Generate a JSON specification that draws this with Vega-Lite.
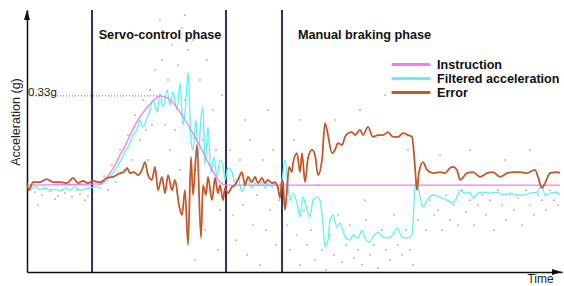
{
  "$schema": "https://vega.github.io/schema/vega-lite/v6.json",
  "width": 535,
  "height": 262,
  "autosize": "none",
  "padding": {"left": 27, "top": 10, "right": 2, "bottom": 14},
  "background": "white",
  "config": {"view": {"stroke": null}, "font": "Liberation Sans"},
  "datasets": {
    "dots": [
      {"t":8,"a":-0.026},{"t":15,"a":-0.037},{"t":23,"a":-0.022},{"t":31,"a":-0.041},{"t":38,"a":-0.030},{"t":45,"a":-0.044},{"t":53,"a":-0.033},{"t":61,"a":-0.041},{"t":18,"a":-0.011},{"t":35,"a":-0.019},{"t":50,"a":-0.019},{"t":66,"a":-0.026},{"t":28,"a":-0.052},{"t":58,"a":-0.056},{"t":11,"a":-0.074},
      {"t":73,"a":-0.011},{"t":77,"a":0.033},{"t":81,"a":-0.019},{"t":85,"a":0.074},{"t":89,"a":0.011},{"t":93,"a":0.130},{"t":97,"a":0.056},{"t":101,"a":0.185},{"t":105,"a":0.093},{"t":108,"a":0.259},{"t":113,"a":0.167},{"t":116,"a":0.315},{"t":119,"a":0.204},{"t":123,"a":0.352},{"t":125,"a":0.222},{"t":128,"a":0.426},{"t":131,"a":0.278},{"t":135,"a":0.463},{"t":138,"a":0.222},{"t":141,"a":0.389},{"t":145,"a":0.518},{"t":148,"a":0.204},{"t":151,"a":0.444},{"t":155,"a":0.581},{"t":158,"a":0.315},{"t":161,"a":0.500},{"t":163,"a":0.204},{"t":166,"a":0.537},{"t":169,"a":0.056},{"t":173,"a":0.389},{"t":176,"a":0.167},{"t":180,"a":0.463},{"t":183,"a":-0.019},{"t":186,"a":0.278},{"t":189,"a":0.130},{"t":193,"a":-0.093},{"t":195,"a":0.333},{"t":178,"a":-0.167},{"t":168,"a":-0.278},{"t":191,"a":-0.241},{"t":133,"a":0.611},{"t":158,"a":0.629},{"t":121,"a":0.093},{"t":111,"a":0.037},{"t":143,"a":0.130},{"t":153,"a":0.056},
      {"t":203,"a":0.130},{"t":206,"a":-0.111},{"t":209,"a":-0.204},{"t":213,"a":0.093},{"t":216,"a":-0.074},{"t":220,"a":-0.259},{"t":223,"a":0.167},{"t":226,"a":-0.148},{"t":230,"a":-0.037},{"t":233,"a":-0.296},{"t":236,"a":0.093},{"t":239,"a":-0.167},{"t":243,"a":-0.093},{"t":246,"a":0.130},{"t":249,"a":-0.222},{"t":252,"a":-0.056},{"t":218,"a":0.241},{"t":241,"a":0.278},
      {"t":260,"a":-0.148},{"t":263,"a":-0.241},{"t":267,"a":0.167},{"t":270,"a":-0.185},{"t":273,"a":-0.296},{"t":277,"a":-0.093},{"t":280,"a":-0.222},{"t":284,"a":-0.167},{"t":288,"a":-0.278},{"t":291,"a":0},{"t":295,"a":-0.241},{"t":299,"a":-0.315},{"t":303,"a":-0.185},{"t":307,"a":-0.259},{"t":311,"a":-0.111},{"t":315,"a":-0.285},{"t":319,"a":-0.222},{"t":323,"a":-0.148},{"t":327,"a":-0.270},{"t":331,"a":-0.241},{"t":335,"a":-0.296},{"t":339,"a":-0.130},{"t":343,"a":-0.259},{"t":347,"a":-0.222},{"t":351,"a":-0.307},{"t":355,"a":-0.167},{"t":359,"a":-0.241},{"t":363,"a":-0.278},{"t":367,"a":-0.111},{"t":371,"a":-0.222},{"t":375,"a":-0.259},{"t":379,"a":-0.167},{"t":383,"a":-0.241},{"t":386,"a":-0.296},{"t":308,"a":0.241},{"t":333,"a":0.278},{"t":358,"a":0.333},{"t":273,"a":0.241},{"t":381,"a":0.130},{"t":338,"a":-0.056},
      {"t":391,"a":-0.130},{"t":395,"a":-0.074},{"t":399,"a":-0.167},{"t":403,"a":-0.056},{"t":407,"a":-0.111},{"t":411,"a":-0.093},{"t":415,"a":-0.167},{"t":419,"a":-0.037},{"t":423,"a":-0.130},{"t":427,"a":-0.074},{"t":431,"a":-0.148},{"t":435,"a":-0.019},{"t":439,"a":-0.100},{"t":443,"a":-0.056},{"t":447,"a":-0.148},{"t":451,"a":-0.074},{"t":455,"a":-0.037},{"t":459,"a":-0.111},{"t":463,"a":-0.056},{"t":467,"a":-0.167},{"t":471,"a":-0.019},{"t":475,"a":-0.074},{"t":479,"a":-0.130},{"t":483,"a":-0.037},{"t":487,"a":-0.093},{"t":491,"a":-0.048},{"t":495,"a":-0.148},{"t":499,"a":-0.019},{"t":503,"a":-0.074},{"t":507,"a":-0.111},{"t":511,"a":-0.037},{"t":515,"a":-0.056},{"t":519,"a":-0.093},{"t":523,"a":-0.019},{"t":527,"a":-0.056},{"t":531,"a":-0.074},{"t":443,"a":0.130},{"t":478,"a":0.093},{"t":413,"a":0.111},{"t":503,"a":0.130}
    ],
    "lines": [
      {"series":"Filtered acceleration","t":0,"a":0.007},{"series":"Filtered acceleration","t":3,"a":-0.019},{"series":"Filtered acceleration","t":8,"a":-0.007},{"series":"Filtered acceleration","t":13,"a":-0.015},{"series":"Filtered acceleration","t":18,"a":-0.011},{"series":"Filtered acceleration","t":23,"a":-0.019},{"series":"Filtered acceleration","t":28,"a":-0.015},{"series":"Filtered acceleration","t":33,"a":-0.022},{"series":"Filtered acceleration","t":38,"a":-0.011},{"series":"Filtered acceleration","t":43,"a":-0.019},{"series":"Filtered acceleration","t":48,"a":-0.007},{"series":"Filtered acceleration","t":53,"a":-0.019},{"series":"Filtered acceleration","t":58,"a":-0.015},{"series":"Filtered acceleration","t":63,"a":-0.011},{"series":"Filtered acceleration","t":68,"a":-0.007},{"series":"Filtered acceleration","t":73,"a":0},{"series":"Filtered acceleration","t":78,"a":0.011},{"series":"Filtered acceleration","t":83,"a":0.030},{"series":"Filtered acceleration","t":88,"a":0.056},{"series":"Filtered acceleration","t":93,"a":0.085},{"series":"Filtered acceleration","t":98,"a":0.122},{"series":"Filtered acceleration","t":103,"a":0.155},{"series":"Filtered acceleration","t":107,"a":0.192},{"series":"Filtered acceleration","t":110,"a":0.204},{"series":"Filtered acceleration","t":113,"a":0.241},{"series":"Filtered acceleration","t":116,"a":0.215},{"series":"Filtered acceleration","t":120,"a":0.248},{"series":"Filtered acceleration","t":123,"a":0.278},{"series":"Filtered acceleration","t":126,"a":0.315},{"series":"Filtered acceleration","t":130,"a":0.270},{"series":"Filtered acceleration","t":133,"a":0.340},{"series":"Filtered acceleration","t":136,"a":0.289},{"series":"Filtered acceleration","t":140,"a":0.352},{"series":"Filtered acceleration","t":143,"a":0.296},{"series":"Filtered acceleration","t":146,"a":0.344},{"series":"Filtered acceleration","t":150,"a":0.278},{"series":"Filtered acceleration","t":153,"a":0.377},{"series":"Filtered acceleration","t":156,"a":0.222},{"series":"Filtered acceleration","t":159,"a":0.315},{"series":"Filtered acceleration","t":161,"a":0.418},{"series":"Filtered acceleration","t":164,"a":0.167},{"series":"Filtered acceleration","t":166,"a":0.130},{"series":"Filtered acceleration","t":169,"a":0.241},{"series":"Filtered acceleration","t":171,"a":0.100},{"series":"Filtered acceleration","t":174,"a":0.248},{"series":"Filtered acceleration","t":176,"a":0.289},{"series":"Filtered acceleration","t":178,"a":0.074},{"series":"Filtered acceleration","t":181,"a":0.215},{"series":"Filtered acceleration","t":184,"a":0.048},{"series":"Filtered acceleration","t":187,"a":0.104},{"series":"Filtered acceleration","t":190,"a":0.030},{"series":"Filtered acceleration","t":193,"a":0.093},{"series":"Filtered acceleration","t":196,"a":0.074},{"series":"Filtered acceleration","t":198,"a":0.019},{"series":"Filtered acceleration","t":201,"a":0.063},{"series":"Filtered acceleration","t":205,"a":0.048},{"series":"Filtered acceleration","t":208,"a":0.007},{"series":"Filtered acceleration","t":211,"a":0.026},{"series":"Filtered acceleration","t":215,"a":-0.026},{"series":"Filtered acceleration","t":218,"a":0},{"series":"Filtered acceleration","t":221,"a":0.019},{"series":"Filtered acceleration","t":225,"a":-0.011},{"series":"Filtered acceleration","t":228,"a":0.007},{"series":"Filtered acceleration","t":231,"a":-0.004},{"series":"Filtered acceleration","t":235,"a":0.011},{"series":"Filtered acceleration","t":238,"a":-0.011},{"series":"Filtered acceleration","t":241,"a":0.004},{"series":"Filtered acceleration","t":245,"a":-0.007},{"series":"Filtered acceleration","t":248,"a":0.007},{"series":"Filtered acceleration","t":251,"a":-0.011},{"series":"Filtered acceleration","t":255,"a":0.019},{"series":"Filtered acceleration","t":258,"a":0.093},{"series":"Filtered acceleration","t":261,"a":-0.007},{"series":"Filtered acceleration","t":263,"a":-0.056},{"series":"Filtered acceleration","t":266,"a":-0.030},{"series":"Filtered acceleration","t":270,"a":-0.067},{"series":"Filtered acceleration","t":273,"a":-0.118},{"series":"Filtered acceleration","t":276,"a":-0.044},{"series":"Filtered acceleration","t":280,"a":-0.093},{"series":"Filtered acceleration","t":283,"a":-0.118},{"series":"Filtered acceleration","t":286,"a":-0.056},{"series":"Filtered acceleration","t":290,"a":-0.044},{"series":"Filtered acceleration","t":293,"a":-0.056},{"series":"Filtered acceleration","t":296,"a":-0.148},{"series":"Filtered acceleration","t":298,"a":-0.229},{"series":"Filtered acceleration","t":301,"a":-0.204},{"series":"Filtered acceleration","t":303,"a":-0.130},{"series":"Filtered acceleration","t":306,"a":-0.111},{"series":"Filtered acceleration","t":310,"a":-0.155},{"series":"Filtered acceleration","t":313,"a":-0.141},{"series":"Filtered acceleration","t":318,"a":-0.192},{"series":"Filtered acceleration","t":323,"a":-0.204},{"series":"Filtered acceleration","t":326,"a":-0.185},{"series":"Filtered acceleration","t":331,"a":-0.196},{"series":"Filtered acceleration","t":335,"a":-0.167},{"series":"Filtered acceleration","t":338,"a":-0.196},{"series":"Filtered acceleration","t":343,"a":-0.211},{"series":"Filtered acceleration","t":346,"a":-0.192},{"series":"Filtered acceleration","t":351,"a":-0.174},{"series":"Filtered acceleration","t":356,"a":-0.192},{"series":"Filtered acceleration","t":361,"a":-0.196},{"series":"Filtered acceleration","t":366,"a":-0.185},{"series":"Filtered acceleration","t":370,"a":-0.159},{"series":"Filtered acceleration","t":375,"a":-0.192},{"series":"Filtered acceleration","t":380,"a":-0.196},{"series":"Filtered acceleration","t":385,"a":-0.185},{"series":"Filtered acceleration","t":388,"a":-0.007},{"series":"Filtered acceleration","t":390,"a":0.019},{"series":"Filtered acceleration","t":393,"a":-0.044},{"series":"Filtered acceleration","t":396,"a":-0.081},{"series":"Filtered acceleration","t":400,"a":-0.056},{"series":"Filtered acceleration","t":406,"a":-0.037},{"series":"Filtered acceleration","t":413,"a":-0.044},{"series":"Filtered acceleration","t":420,"a":-0.056},{"series":"Filtered acceleration","t":426,"a":-0.067},{"series":"Filtered acceleration","t":430,"a":-0.044},{"series":"Filtered acceleration","t":433,"a":-0.019},{"series":"Filtered acceleration","t":438,"a":-0.030},{"series":"Filtered acceleration","t":443,"a":-0.026},{"series":"Filtered acceleration","t":446,"a":-0.048},{"series":"Filtered acceleration","t":451,"a":-0.030},{"series":"Filtered acceleration","t":456,"a":-0.026},{"series":"Filtered acceleration","t":463,"a":-0.030},{"series":"Filtered acceleration","t":470,"a":-0.026},{"series":"Filtered acceleration","t":476,"a":-0.037},{"series":"Filtered acceleration","t":483,"a":-0.030},{"series":"Filtered acceleration","t":490,"a":-0.037},{"series":"Filtered acceleration","t":496,"a":-0.037},{"series":"Filtered acceleration","t":503,"a":-0.030},{"series":"Filtered acceleration","t":510,"a":-0.026},{"series":"Filtered acceleration","t":515,"a":0},{"series":"Filtered acceleration","t":518,"a":-0.037},{"series":"Filtered acceleration","t":523,"a":-0.030},{"series":"Filtered acceleration","t":530,"a":-0.026},{"series":"Filtered acceleration","t":533,"a":-0.037},
      {"series":"Instruction","t":0,"a":0},{"series":"Instruction","t":73,"a":0.004},{"series":"Instruction","t":78,"a":0.019},{"series":"Instruction","t":83,"a":0.044},{"series":"Instruction","t":88,"a":0.074},{"series":"Instruction","t":93,"a":0.111},{"series":"Instruction","t":98,"a":0.144},{"series":"Instruction","t":103,"a":0.185},{"series":"Instruction","t":108,"a":0.222},{"series":"Instruction","t":113,"a":0.252},{"series":"Instruction","t":118,"a":0.278},{"series":"Instruction","t":123,"a":0.300},{"series":"Instruction","t":128,"a":0.318},{"series":"Instruction","t":133,"a":0.330},{"series":"Instruction","t":138,"a":0.326},{"series":"Instruction","t":143,"a":0.315},{"series":"Instruction","t":148,"a":0.296},{"series":"Instruction","t":153,"a":0.270},{"series":"Instruction","t":158,"a":0.241},{"series":"Instruction","t":163,"a":0.211},{"series":"Instruction","t":168,"a":0.178},{"series":"Instruction","t":173,"a":0.144},{"series":"Instruction","t":178,"a":0.107},{"series":"Instruction","t":183,"a":0.070},{"series":"Instruction","t":188,"a":0.037},{"series":"Instruction","t":193,"a":0.011},{"series":"Instruction","t":198,"a":0},{"series":"Instruction","t":533,"a":0},
      {"series":"Error","t":0,"a":0.007},{"series":"Error","t":2,"a":-0.019},{"series":"Error","t":6,"a":0.011},{"series":"Error","t":13,"a":0.011},{"series":"Error","t":20,"a":0.022},{"series":"Error","t":26,"a":0.011},{"series":"Error","t":33,"a":0.011},{"series":"Error","t":40,"a":0.007},{"series":"Error","t":46,"a":0.026},{"series":"Error","t":51,"a":0.007},{"series":"Error","t":56,"a":0.015},{"series":"Error","t":61,"a":0.007},{"series":"Error","t":66,"a":0.015},{"series":"Error","t":73,"a":0.011},{"series":"Error","t":80,"a":0.026},{"series":"Error","t":86,"a":0.030},{"series":"Error","t":93,"a":0.044},{"series":"Error","t":97,"a":0.048},{"series":"Error","t":100,"a":0.063},{"series":"Error","t":103,"a":0.044},{"series":"Error","t":107,"a":0.048},{"series":"Error","t":111,"a":0.037},{"series":"Error","t":115,"a":0.056},{"series":"Error","t":118,"a":0.085},{"series":"Error","t":121,"a":0.037},{"series":"Error","t":125,"a":0.019},{"series":"Error","t":128,"a":0.067},{"series":"Error","t":131,"a":-0.019},{"series":"Error","t":135,"a":0.030},{"series":"Error","t":138,"a":-0.030},{"series":"Error","t":141,"a":0.037},{"series":"Error","t":145,"a":-0.019},{"series":"Error","t":148,"a":0.019},{"series":"Error","t":152,"a":-0.074},{"series":"Error","t":155,"a":-0.111},{"series":"Error","t":158,"a":-0.019},{"series":"Error","t":161,"a":-0.222},{"series":"Error","t":164,"a":0.104},{"series":"Error","t":166,"a":-0.037},{"series":"Error","t":170,"a":0.148},{"series":"Error","t":174,"a":-0.196},{"series":"Error","t":176,"a":0},{"series":"Error","t":179,"a":-0.037},{"series":"Error","t":181,"a":0.030},{"series":"Error","t":185,"a":-0.056},{"series":"Error","t":188,"a":0.026},{"series":"Error","t":191,"a":-0.030},{"series":"Error","t":193,"a":0},{"series":"Error","t":196,"a":-0.056},{"series":"Error","t":198,"a":-0.011},{"series":"Error","t":201,"a":-0.030},{"series":"Error","t":205,"a":-0.007},{"series":"Error","t":208,"a":0},{"series":"Error","t":211,"a":0.019},{"series":"Error","t":215,"a":0.048},{"series":"Error","t":218,"a":0},{"series":"Error","t":221,"a":0.030},{"series":"Error","t":225,"a":0.011},{"series":"Error","t":228,"a":0.030},{"series":"Error","t":231,"a":0.007},{"series":"Error","t":235,"a":0.026},{"series":"Error","t":238,"a":0.007},{"series":"Error","t":241,"a":0.019},{"series":"Error","t":245,"a":0.007},{"series":"Error","t":248,"a":0.011},{"series":"Error","t":251,"a":-0.011},{"series":"Error","t":253,"a":-0.048},{"series":"Error","t":255,"a":0.019},{"series":"Error","t":256,"a":0.007},{"series":"Error","t":258,"a":-0.093},{"series":"Error","t":260,"a":-0.019},{"series":"Error","t":262,"a":0.067},{"series":"Error","t":265,"a":0.048},{"series":"Error","t":266,"a":0.081},{"series":"Error","t":270,"a":0.118},{"series":"Error","t":273,"a":0.048},{"series":"Error","t":275,"a":0.118},{"series":"Error","t":278,"a":0.011},{"series":"Error","t":281,"a":0.100},{"series":"Error","t":285,"a":0.130},{"series":"Error","t":288,"a":0.111},{"series":"Error","t":291,"a":0.037},{"series":"Error","t":295,"a":0.093},{"series":"Error","t":298,"a":0.229},{"series":"Error","t":300,"a":0.204},{"series":"Error","t":305,"a":0.118},{"series":"Error","t":308,"a":0.130},{"series":"Error","t":311,"a":0.155},{"series":"Error","t":315,"a":0.148},{"series":"Error","t":318,"a":0.178},{"series":"Error","t":321,"a":0.192},{"series":"Error","t":325,"a":0.196},{"series":"Error","t":328,"a":0.185},{"series":"Error","t":333,"a":0.204},{"series":"Error","t":336,"a":0.185},{"series":"Error","t":341,"a":0.215},{"series":"Error","t":346,"a":0.178},{"series":"Error","t":351,"a":0.185},{"series":"Error","t":356,"a":0.185},{"series":"Error","t":361,"a":0.196},{"series":"Error","t":366,"a":0.178},{"series":"Error","t":371,"a":0.178},{"series":"Error","t":376,"a":0.192},{"series":"Error","t":381,"a":0.185},{"series":"Error","t":385,"a":0.178},{"series":"Error","t":386,"a":0.155},{"series":"Error","t":388,"a":0.067},{"series":"Error","t":390,"a":-0.019},{"series":"Error","t":392,"a":0.048},{"series":"Error","t":396,"a":0.085},{"series":"Error","t":400,"a":0.056},{"series":"Error","t":406,"a":0.044},{"series":"Error","t":413,"a":0.048},{"series":"Error","t":418,"a":0.044},{"series":"Error","t":423,"a":0.063},{"series":"Error","t":426,"a":0.067},{"series":"Error","t":430,"a":0.056},{"series":"Error","t":433,"a":0.019},{"series":"Error","t":440,"a":0.044},{"series":"Error","t":446,"a":0.048},{"series":"Error","t":453,"a":0.030},{"series":"Error","t":460,"a":0.044},{"series":"Error","t":466,"a":0.048},{"series":"Error","t":473,"a":0.030},{"series":"Error","t":480,"a":0.044},{"series":"Error","t":486,"a":0.048},{"series":"Error","t":493,"a":0.048},{"series":"Error","t":500,"a":0.044},{"series":"Error","t":508,"a":0.056},{"series":"Error","t":511,"a":0.030},{"series":"Error","t":515,"a":-0.011},{"series":"Error","t":518,"a":0.007},{"series":"Error","t":523,"a":0.044},{"series":"Error","t":530,"a":0.048},{"series":"Error","t":533,"a":0.044}
    ],
    "phases": [{"t":65,"a":-0.322,"a2":0.648},{"t":199,"a":-0.322,"a2":0.648},{"t":255,"a":-0.322,"a2":0.648}],
    "peak": [{"t":0,"t2":133,"a":0.33,"label":"0.33g"}],
    "labels": [{"t":133,"a":0.54,"label":"Servo-control phase"},{"t":337.5,"a":0.54,"label":"Manual braking phase"}],
    "arrowUp": [{"t":0,"a":0.648}],
    "arrowRight": [{"t":535,"a":-0.322}]
  },
  "encoding": {
    "x": {"field":"t","type":"quantitative","scale":{"domain":[0,535],"nice":false,"zero":false},
      "axis":{"title":"Time","labels":false,"ticks":false,"grid":false,"domainColor":"#111","domainWidth":1.5,"titleX":513,"titleY":10,"titleAlign":"center","titleBaseline":"alphabetic","titleFontWeight":"normal","titleFontSize":12,"titleFont":"Liberation Sans","titleColor":"#222"}},
    "y": {"field":"a","type":"quantitative","scale":{"domain":[-0.322,0.648],"nice":false,"zero":false},
      "axis":{"title":"Acceleration (g)","labels":false,"ticks":false,"grid":false,"domainColor":"#111","domainWidth":1.5,"titleX":-12,"titleY":111.5,"titleAngle":270,"titleAlign":"center","titleBaseline":"middle","titleFontWeight":"normal","titleFontSize":12.5,"titleFont":"Liberation Sans","titleColor":"#222"}}
  },
  "layer": [
    {"data":{"name":"dots"},"mark":{"type":"point","filled":true,"size":3,"color":"#8f8f8f","opacity":0.8}},
    {"data":{"name":"phases"},"mark":{"type":"rule","color":"#2e3566","strokeWidth":2},"encoding":{"y2":{"field":"a2"}}},
    {"data":{"name":"peak"},"mark":{"type":"rule","color":"#444","strokeWidth":0.8,"strokeDash":[1,2]},"encoding":{"x2":{"field":"t2"}}},
    {"data":{"name":"lines"},"transform":[{"filter":"datum.series === 'Filtered acceleration'"}],
      "mark":{"type":"line","strokeWidth":1.3,"interpolate":"monotone"},
      "encoding":{"color":{"field":"series","type":"nominal","scale":{"domain":["Instruction","Filtered acceleration","Error"],"range":["#f57af5","#5ef2f2","#c4572c"]},
        "legend":{"orient":"none","legendX":377.5,"legendY":48,"title":null,"symbolType":"M-4,0 L4,0","symbolSize":94,"symbolStrokeWidth":3,"labelFontSize":12.6,"labelFontWeight":"bold","labelFont":"Liberation Sans","labelColor":"#111","labelOffset":19.5,"rowPadding":-2.5,"padding":0}}}},
    {"data":{"name":"lines"},"transform":[{"filter":"datum.series === 'Instruction'"}],
      "mark":{"type":"line","strokeWidth":1.3,"interpolate":"monotone"},
      "encoding":{"color":{"field":"series","type":"nominal","scale":{"domain":["Instruction","Filtered acceleration","Error"],"range":["#f57af5","#5ef2f2","#c4572c"]}}}},
    {"data":{"name":"lines"},"transform":[{"filter":"datum.series === 'Error'"}],
      "mark":{"type":"line","strokeWidth":1.8,"interpolate":"monotone"},
      "encoding":{"color":{"field":"series","type":"nominal","scale":{"domain":["Instruction","Filtered acceleration","Error"],"range":["#f57af5","#5ef2f2","#c4572c"]}}}},
    {"data":{"name":"labels"},"mark":{"type":"text","font":"Liberation Sans","fontWeight":"bold","fontSize":12.7,"color":"#111","align":"center","baseline":"alphabetic"},"encoding":{"text":{"field":"label"}}},
    {"data":{"name":"peak"},"mark":{"type":"text","font":"Liberation Sans","fontSize":11.5,"color":"#222","align":"left","baseline":"alphabetic","dx":1,"dy":0},"encoding":{"text":{"field":"label"}}},
    {"data":{"name":"arrowUp"},"mark":{"type":"point","filled":true,"size":100,"color":"#111","opacity":1,"shape":"M0,0 L-0.6,2 L0.6,2 Z"}},
    {"data":{"name":"arrowRight"},"mark":{"type":"point","filled":true,"size":100,"color":"#111","opacity":1,"shape":"M0,0 L-2,-0.6 L-2,0.6 Z"}}
  ]
}
